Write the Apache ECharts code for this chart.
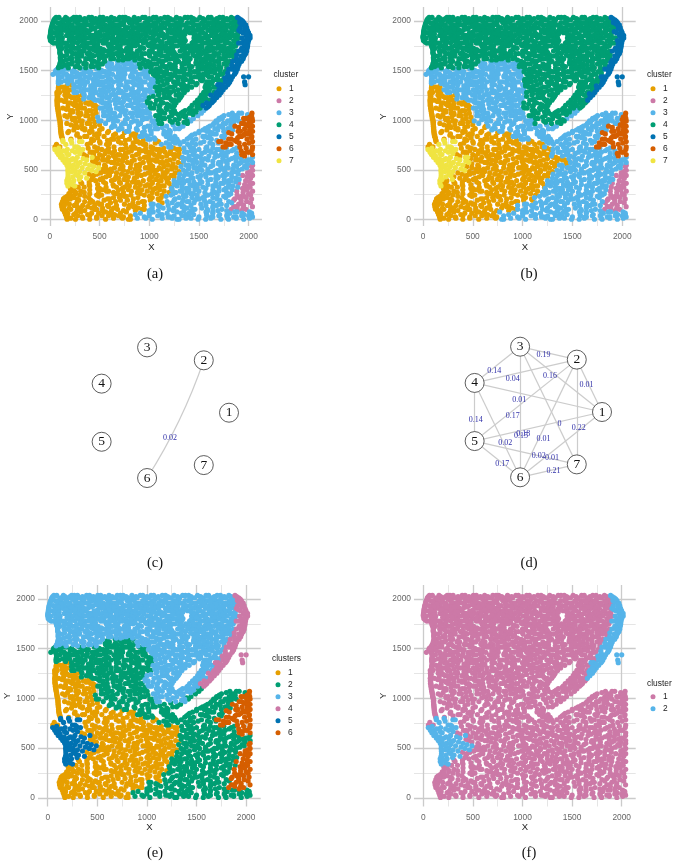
<!DOCTYPE html>
<html>
<head>
<meta charset="utf-8">
<style>html,body{margin:0;padding:0;background:#fff}#chart{width:678px;height:866px}</style>
<script src="https://cdn.jsdelivr.net/npm/echarts@6/dist/echarts.min.js"></script>
</head>
<body>
<div id="chart"></div>
<script>
// Spatial spots, one row per line: [y, x, x, x, ...]
const spotRows = [
[2036,62,91,158,241,268,300,392,421,505,534,618,701,733,760,849,933,958,1042,1069,1155,1187,1274,1360,1388,1421,1510,1596,1622,1708,1741,1826,1888],
[2012,41,130,163,207,296,325,412,480,552,585,659,687,774,812,901,988,1017,1101,1213,1241,1330,1452,1483,1560,1648,1679,1770,1796,1862,1925],
[1985,31,72,104,192,271,350,447,475,530,626,715,800,836,871,958,1051,1140,1171,1270,1298,1385,1417,1530,1592,1617,1700,1735,1829,1912,1952],
[1960,23,118,147,225,313,360,391,495,560,651,678,745,893,921,1000,1025,1118,1206,1235,1327,1349,1465,1500,1588,1668,1764,1792,1878,1971],
[1933,15,58,86,170,262,291,430,458,520,590,624,762,786,862,969,990,1082,1158,1281,1305,1400,1434,1550,1622,1645,1722,1825,1848,1915,1980],
[1906,10,121,152,198,336,367,404,541,574,640,702,731,825,920,945,1046,1079,1190,1243,1269,1361,1478,1503,1590,1700,1729,1775,1880,1902,1988],
[1882,6,44,88,215,244,311,380,468,499,611,659,688,780,853,885,1013,1037,1121,1220,1251,1332,1410,1439,1541,1637,1669,1760,1812,1942,1999],
[1855,3,70,168,192,281,406,431,515,548,633,742,770,839,921,971,1098,1126,1177,1295,1320,1471,1502,1574,1620,1713,1787,1838,1868,1973,2014],
[1829,0,32,125,229,258,345,377,452,600,627,709,815,848,900,1005,1031,1150,1205,1231,1350,1450,1531,1561,1656,1740,1810,1908,1935,2015],
[1803,5,92,119,208,301,329,489,516,568,661,690,791,880,908,968,1064,1100,1262,1291,1363,1475,1500,1604,1695,1721,1850,1881,1952,2000],
[1778,36,62,150,172,277,385,411,535,559,640,738,762,855,941,1020,1047,1176,1204,1310,1332,1430,1541,1569,1658,1772,1803,1900,1925,1994],
[1750,86,199,226,321,352,447,476,591,617,708,830,860,996,1022,1080,1143,1260,1285,1392,1498,1527,1621,1699,1730,1845,1871,1960,1990],
[1725,96,122,248,270,397,423,508,650,682,773,795,910,945,1113,1136,1205,1340,1366,1445,1475,1580,1647,1679,1796,1820,1930,1984],
[1698,101,165,190,312,338,461,487,562,585,725,752,879,1000,1028,1169,1195,1310,1420,1448,1553,1600,1742,1766,1876,1901,1981],
[1672,100,230,257,375,400,520,629,657,811,835,930,958,1060,1088,1226,1248,1390,1502,1530,1672,1700,1830,1853,1972],
[1647,106,148,294,320,441,541,568,690,714,845,871,1005,1125,1155,1280,1312,1460,1486,1605,1625,1780,1808,1925,1954],
[1620,105,197,221,360,385,495,612,641,768,792,902,1038,1064,1197,1225,1352,1412,1554,1580,1716,1745,1878,1945],
[1594,107,133,270,298,426,448,552,680,706,830,860,985,1112,1140,1265,1295,1395,1520,1548,1656,1688,1810,1840,1929],
[1568,100,185,212,340,366,505,528,622,750,778,900,932,1050,1078,1205,1328,1355,1472,1495,1610,1752,1780,1905],
[1541,90,118,255,281,412,438,582,605,705,840,866,965,1000,1150,1172,1262,1402,1430,1566,1590,1702,1845,1870,1894],
[1516,75,160,186,318,345,470,642,668,783,808,924,1070,1098,1230,1256,1360,1505,1532,1652,1676,1800,1826,1887],
[1490,56,104,226,250,384,410,538,561,726,752,860,990,1015,1127,1300,1327,1450,1474,1613,1635,1760,1874],
[1463,31,80,168,290,315,450,476,600,630,755,888,915,1042,1070,1190,1218,1388,1412,1540,1565,1710,1736,1858],
[1438,91,122,236,258,352,505,532,666,690,812,838,958,1098,1125,1280,1306,1455,1482,1600,1628,1790,1815,1838,1950,2000],
[1411,88,178,204,310,433,459,590,614,720,882,908,1022,1050,1174,1200,1340,1368,1516,1540,1670,1695,1745,1824],
[1386,85,112,275,300,378,520,548,640,770,797,935,958,1088,1245,1272,1410,1436,1580,1604,1742,1766,1810,1960],
[1359,89,216,240,350,483,510,692,718,850,874,1000,1030,1145,1320,1344,1470,1570,1600,1690,1718,1790,1965],
[1333,86,130,265,292,420,446,578,602,760,785,900,1062,1086,1210,1238,1378,1426,1562,1650,1674,1768],
[1307,85,186,212,360,386,505,640,768,820,945,968,1120,1148,1290,1384,1571,1600,1702,1744],
[1281,70,96,242,268,440,466,562,688,715,860,886,1015,1040,1188,1214,1353,1548,1650,1680,1724],
[1254,71,150,174,322,346,498,524,615,772,796,932,958,1092,1270,1296,1329,1526,1620,1705],
[1229,73,220,244,390,416,570,598,738,845,870,1000,1152,1178,1313,1511,1540,1647,1679],
[1202,70,112,285,310,455,480,646,672,805,900,925,1072,1225,1250,1294,1486,1602,1654],
[1176,71,180,206,360,386,528,556,705,728,860,985,1012,1140,1270,1460,1488,1576,1629],
[1150,72,248,272,432,456,600,780,804,930,952,1108,1202,1254,1431,1540,1604],
[1123,76,130,322,348,505,530,668,690,840,866,1020,1047,1170,1238,1411,1512,1574],
[1098,80,205,228,392,418,580,742,766,910,934,1096,1120,1253,1361,1441,1470,1549],
[1071,85,284,310,465,626,650,810,836,975,1002,1155,1264,1322,1405,1524,1836,1902,1930,2034],
[1046,89,150,360,384,540,564,702,880,904,1065,1088,1226,1338,1366,1489,1752,1850,1875,1992,2030],
[1019,93,226,250,434,612,636,780,950,976,1130,1154,1301,1444,1703,1735,1830,1950,1975,2036],
[993,100,300,325,490,515,680,850,874,1030,1052,1212,1380,1418,1672,1790,1815,1900,2040],
[968,102,170,375,400,560,735,760,912,1100,1125,1290,1384,1651,1745,1770,1930,1955,2005],
[941,104,245,268,450,630,654,800,985,1010,1175,1339,1611,1700,1725,1862,2005,2039],
[915,106,328,352,525,700,724,870,1060,1085,1260,1299,1562,1660,1790,1814,1960,2022],
[889,109,190,400,424,590,770,794,950,1018,1150,1212,1501,1578,1602,1750,1895,1919,2040],
[862,111,276,470,495,660,840,864,1019,1146,1209,1461,1650,1674,1830,1990,2014],
[837,116,350,372,545,730,905,930,979,1171,1258,1416,1540,1564,1730,1905,1928,2033],
[810,126,212,420,620,644,800,985,1010,1058,1203,1279,1381,1470,1625,1800,1825,1985],
[785,131,298,322,500,690,865,888,1094,1241,1294,1346,1550,1700,1724,1880,2040],
[758,66,160,376,570,590,760,940,965,1122,1203,1309,1386,1470,1640,1800,1824,1960],
[732,51,100,250,275,450,645,820,844,1018,1196,1220,1410,1580,1742,1766,1912,2040],
[706,50,175,330,522,710,734,900,1075,1100,1280,1305,1500,1680,1704,1850,2036],
[679,71,112,255,405,428,600,790,970,994,1160,1355,1378,1560,1625,1790,1985,2010],
[654,86,190,340,500,680,704,870,1050,1240,1264,1440,1722,1745,1930,2040],
[627,106,275,425,448,590,770,950,974,1130,1310,1334,1515,1660,1860,1884,2039],
[601,131,210,370,530,555,690,850,1030,1054,1210,1400,1424,1590,1800,1990,2014],
[575,151,305,460,620,644,780,940,1110,1134,1290,1480,1700,1724,1925,2040],
[548,171,235,400,550,720,870,894,1015,1190,1370,1394,1560,1640,1850,2040],
[523,181,325,490,650,810,960,984,1100,1270,1450,1474,1770,1794,1980],
[496,180,255,420,580,740,900,1050,1074,1180,1345,1530,1680,1704,1900,2040],
[470,182,350,510,670,830,990,1006,1140,1260,1430,1600,1620,1830,1990],
[444,183,280,440,600,760,920,1090,1220,1244,1350,1520,1740,1764,1940,2040],
[417,179,370,530,690,850,1010,1170,1194,1300,1440,1670,1690,1870,2020],
[392,170,240,460,620,780,940,1100,1120,1250,1380,1400,1590,1800,1824,1970],
[365,171,320,560,710,870,1030,1200,1320,1344,1510,1720,1744,1900,2040],
[339,181,250,400,640,800,960,1130,1150,1280,1440,1640,1660,1840,2000],
[313,206,480,500,730,890,1060,1225,1370,1394,1570,1770,1940,1964],
[286,211,310,570,590,820,980,1150,1310,1330,1500,1700,1880,2040],
[261,191,256,400,660,680,910,1080,1240,1420,1444,1630,1820,2000],
[234,171,350,490,750,770,1000,1170,1350,1370,1560,1750,1930,1954],
[208,136,205,275,580,600,840,1090,1260,1480,1504,1680,1860,2030],
[182,126,350,430,660,930,950,1180,1380,1400,1610,1800,1980],
[155,116,196,500,520,750,1020,1040,1290,1520,1700,1724,1900],
[130,119,275,380,590,840,860,1110,1330,1350,1640,1850,1874,2039],
[103,126,210,450,470,680,930,950,1200,1440,1460,1585,1730,1824,1974],
[77,146,310,540,560,770,1020,1040,1280,1430,1571,1640,1860,1884,2008],
[51,156,240,380,630,650,860,1110,1130,1370,1447,1578,1709,1786,1955,2030],
[26,166,325,470,720,740,950,1190,1210,1400,1500,1628,1640,1850,1874,2039],
[3,173,257,400,560,790,810,1030,1280,1300,1491,1568,1721,1798,1951]
];

// Second pass of spots, between the rows above
const fillRows = [
[2024,50,175,225,350,460,575,650,790,890,1000,1115,1210,1310,1445,1540,1680,1780,1850,1905],
[1998,38,135,250,365,440,510,600,745,860,985,1085,1190,1320,1435,1555,1660,1745,1870,1940],
[1972,27,95,180,285,420,525,610,715,820,965,1070,1175,1290,1440,1540,1640,1730,1840,1935],
[1946,20,135,215,345,415,490,595,700,830,925,1040,1125,1255,1370,1490,1575,1695,1790,1895,1960],
[1920,12,105,240,310,440,555,665,760,890,1000,1120,1210,1310,1440,1530,1660,1755,1850,1960],
[1894,8,75,180,275,385,505,615,745,820,975,1070,1190,1290,1390,1520,1625,1735,1835,1920,1990],
[1868,5,115,225,350,475,575,710,805,950,1065,1140,1260,1360,1450,1565,1665,1745,1890,1985],
[1842,0,100,200,315,430,490,585,690,800,880,1040,1165,1260,1480,1590,1695,1765,1870,1990],
[1816,15,80,195,290,420,545,660,750,860,950,1085,1200,1320,1500,1590,1680,1780,1880,1985],
[1790,20,105,245,350,445,535,625,725,835,940,1035,1130,1230,1355,1445,1530,1640,1760,1870,1975],
[1764,85,115,225,330,480,590,680,800,880,985,1115,1225,1345,1465,1600,1695,1825,1960],
[1737,90,165,290,375,470,600,695,790,915,1060,1170,1235,1330,1425,1530,1620,1755,1845,1985],
[1711,100,210,345,440,540,620,715,815,905,1030,1100,1235,1340,1410,1510,1630,1720,1825,1940],
[1685,100,220,290,395,530,615,690,790,880,1015,1120,1250,1360,1490,1575,1650,1790,1860,1950],
[1660,110,170,320,425,480,595,720,780,880,1000,1100,1190,1270,1345,1440,1570,1660,1750,1880,1960],
[1634,105,215,270,400,515,630,740,820,920,1060,1180,1250,1385,1510,1645,1700,1850,1945],
[1607,110,160,290,420,550,690,735,855,950,1095,1170,1280,1380,1475,1620,1700,1770,1900],
[1581,105,225,350,480,600,735,790,935,1010,1130,1270,1350,1470,1575,1700,1790,1885],
[1555,100,150,280,420,480,580,680,820,970,1020,1130,1240,1400,1530,1650,1700,1830,1890],
[1529,85,185,300,360,490,650,750,910,1020,1110,1215,1330,1490,1610,1720,1780,1880],
[1503,60,125,240,370,520,600,710,840,960,1060,1175,1270,1410,1570,1710,1860],
[1477,70,135,270,345,500,580,690,830,950,1090,1160,1260,1350,1495,1590,1660,1790,1865],
[1450,85,170,215,400,475,570,720,815,980,1060,1150,1240,1350,1510,1590,1690,1790],
[1425,90,190,300,390,450,590,745,880,990,1085,1220,1350,1420,1540,1680,1760],
[1398,85,150,220,340,480,570,680,840,900,1020,1130,1290,1410,1530,1640,1700,1800],
[1372,85,180,320,440,590,700,840,910,1050,1180,1290,1340,1480,1630,1720,1800],
[1346,90,170,300,410,540,620,770,920,1030,1110,1260,1390,1600,1740],
[1320,85,155,240,340,450,545,690,830,920,1010,1180,1330,1370,1610,1710],
[1294,90,145,310,420,520,590,720,890,980,1080,1250,1345,1600,1710],
[1268,75,180,340,410,520,640,740,820,950,1100,1150,1300,1590,1670],
[1241,80,200,280,430,570,660,840,900,1040,1200,1320,1560,1680],
[1215,75,160,340,440,525,690,780,960,1110,1215,1300,1570,1640],
[1189,75,145,255,420,510,600,740,860,980,1120,1240,1530,1640],
[1163,75,230,310,390,560,660,820,890,1060,1180,1250,1500,1605],
[1136,80,180,280,470,570,730,890,1010,1100,1220,1480,1590],
[1110,85,165,280,460,610,700,870,980,1180,1400,1490,1530],
[1084,85,230,370,540,720,880,950,1130,1220,1340,1470],
[1058,90,200,310,430,600,760,930,1110,1290,1440,1800,1990],
[1032,95,175,290,480,660,830,1010,1200,1360,1730,1890,2010],
[1006,100,230,400,590,760,930,1090,1260,1400,1700,1860,2000],
[980,105,260,450,640,820,1040,1230,1350,1680,1850,2020],
[954,105,210,320,500,720,890,1060,1240,1640,1820,1980],
[928,108,280,420,620,800,950,1130,1310,1590,1740,1900],
[902,110,240,350,500,690,880,1010,1200,1540,1690,1840,2010],
[876,112,180,400,580,750,930,1170,1500,1630,1800,1970],
[850,118,270,450,640,820,960,1200,1430,1610,1760,1950],
[824,125,300,480,690,860,1050,1230,1400,1590,1750,1890,2030],
[798,130,210,440,580,760,940,1070,1270,1440,1680,1860],
[772,220,410,505,600,715,838,905,1060,1170,1262,1430,1517,1610,1695,1770,1905,2005],
[719,90,290,385,480,590,770,860,965,1040,1145,1245,1350,1445,1570,1640,1775,1880,1975],
[693,135,225,285,470,565,650,820,935,1030,1120,1215,1420,1460,1600,1730,1830,1925],
[666,170,300,440,555,630,760,895,1005,1100,1205,1300,1450,1530,1665,1760,1880,1950],
[640,125,370,530,640,735,830,995,1090,1175,1290,1400,1480,1600,1690,1775,1960],
[614,165,230,335,480,660,740,905,990,1080,1250,1360,1465,1560,1740,1830,1925],
[588,185,260,430,585,730,825,995,1070,1175,1345,1440,1530,1640,1770,1875,1965],
[561,190,285,355,490,680,815,910,1005,1140,1240,1320,1440,1530,1695,1785,1905,1990],
[535,205,275,440,560,735,900,1035,1150,1230,1320,1400,1515,1620,1720,1880,1960,2030],
[509,230,380,535,610,705,860,1025,1120,1225,1395,1500,1590,1745,1840,1935],
[483,220,300,465,550,620,785,880,1015,1180,1300,1370,1480,1590,1660,1760,1860,2015],
[457,260,395,470,590,720,880,955,1060,1160,1305,1390,1565,1670,1785,1895,2000],
[430,230,310,430,565,665,790,875,1025,1130,1250,1420,1490,1570,1695,1830,1985],
[404,190,295,420,505,650,745,850,1000,1065,1180,1335,1510,1620,1755,1905],
[378,210,310,395,540,700,830,890,1030,1180,1290,1450,1530,1670,1760,1870,2010],
[352,225,395,480,635,780,910,985,1090,1250,1410,1475,1590,1670,1800,1960],
[326,285,345,565,670,750,860,1010,1095,1220,1330,1480,1540,1700,1795,1890,2015],
[300,240,400,530,690,790,925,1040,1105,1230,1400,1460,1640,1750,1835,1985],
[273,260,345,490,640,740,880,1030,1200,1265,1380,1560,1660,1780,1945],
[247,210,300,470,520,720,815,950,1130,1220,1345,1480,1590,1685,1800,1885,2020],
[221,150,240,390,640,700,885,1030,1120,1300,1430,1540,1640,1770,1905,1975],
[195,170,290,410,545,710,780,1010,1100,1250,1340,1460,1555,1710,1850,1925],
[169,160,270,400,480,610,835,890,1130,1230,1330,1450,1570,1640,1830,1925,2020],
[142,145,245,330,450,580,670,800,950,1090,1190,1275,1420,1570,1680,1780,1950],
[116,135,195,310,420,530,640,790,890,1030,1140,1250,1380,1530,1640,1885,1945],
[90,160,275,350,530,620,740,860,1000,1090,1240,1350,1420,1590,1690,1780,1930],
[64,180,260,420,490,600,710,910,1000,1180,1320,1400,1640,1810,1935,2030],
[38,175,280,400,525,590,690,810,1000,1085,1250,1330,1580,1700,1780,1930,2000],
[14,210,330,470,640,730,880,965,1130,1230,1370,1420,1620,1790,1875,2010]
];

// Cluster runs by height: [lower y, [cluster, x limit, cluster, x limit, ..., last cluster]]
const runsA = [
[1960,[4,1880,5]],[1880,[4,1900,5]],[1800,[4,1910,5]],[1720,[4,1900,5]],[1640,[4,1880,5]],
[1600,[4,1860,5]],[1520,[4,560,3,880,4,1830,5]],[1440,[3,1000,4,1790,5]],[1360,[3,1060,4,1750,5]],
[1280,[1,220,3,1050,4,1680,5]],[1200,[1,340,3,1000,4,1620,5]],[1120,[1,480,3,960,4,1540,5]],
[1040,[1,500,3,1010,4,1480,3,2000,6]],[960,[1,470,3,1090,4,1400,3,1920,6]],[880,[1,600,3,1850,6]],
[800,[1,880,3,1780,6]],[720,[1,130,7,370,1,1100,3,1700,6]],[640,[7,340,1,1310,3,1900,6]],
[560,[7,430,1,1330,3]],[480,[7,500,1,1320,3,1990,2]],[400,[7,380,1,1290,3,1930,2]],
[320,[7,260,1,1250,3,1900,2]],[240,[1,1210,3,1860,2]],[160,[1,1160,3,1840,2]],
[80,[1,1000,3,1810,2]],[-100,[1,830,3]]
];
const runsB = [
[1960,[4,1880,5]],[1880,[4,1920,5]],[1800,[4,1940,5]],[1720,[4,1930,5]],[1640,[4,1900,5]],
[1600,[4,1880,5]],[1520,[4,560,3,950,4,1850,5]],[1440,[3,1010,4,1820,5]],[1360,[3,1020,4,1790,5]],
[1280,[1,210,3,1020,4,1720,5]],[1200,[1,340,3,1010,4,1650,5]],[1120,[1,490,3,1000,4]],
[1040,[1,510,3,1040,4,1480,3,2000,6]],[960,[1,510,3,1110,4,1420,3,1990,6]],[880,[1,650,3,1860,6]],
[800,[1,900,3,1790,6]],[720,[1,150,7,370,1,1210,3,1740,6]],[640,[7,340,1,1290,3,1950,6]],
[560,[7,470,1,1450,3]],[480,[7,440,1,1330,3,1990,2]],[400,[7,310,1,1290,3,1920,2]],
[320,[7,210,1,1230,3,1880,2]],[240,[1,1190,3,1850,2]],[160,[1,1120,3,1830,2]],
[80,[1,950,3,1810,2]],[-100,[1,760,3]]
];
// Panels (e) and (f) group the clusters of (a) into fewer classes
const mergeE = {1:1,2:6,3:2,4:3,5:4,6:6,7:5};
const mergeF = {1:1,2:1,3:1,4:1,5:2,6:1,7:2};
const arcStartF = 1650;

const colorsSeven = {1:'#E69F00',2:'#CC79A7',3:'#56B4E9',4:'#009E73',5:'#0072B2',6:'#D55E00',7:'#F0E442'};
const colorsSix = {1:'#E69F00',2:'#009E73',3:'#56B4E9',4:'#CC79A7',5:'#0072B2',6:'#D55E00'};
const colorsTwo = {1:'#CC79A7',2:'#56B4E9'};

const majorTicks = [0,500,1000,1500,2000];
const minorTicks = [250,750,1250,1750];

// Weighted edges between the seven clusters: [from, to, weight, label shift x, label shift y]
const edgesC = [[2,6,0.02,-9,15]];
const edgesD = [
[2,3,0.19,-5,0],[3,4,0.14,-3,4],[2,4,0.04,-13,6],[1,3,0.16,-11,-5],[1,2,0.01,-3,-3],[1,4,0.01,-19,0],
[4,5,0.14,1,6],[2,5,0.17,-13,14],[3,7,0,11,16],[2,7,0.22,2,14],[1,5,0.18,-15,5],[3,6,0.15,1,22],
[2,6,0.01,-5,18],[5,6,0.17,5,3],[4,6,0.02,8,11],[5,7,0.02,13,1],[1,6,0.01,-9,11],[6,7,0.21,5,-2]
];
const nodeNames = ['1','2','3','4','5','6','7'];

function clusterOf(runs, x, y) {
  const seq = runs.find(r => y >= r[0])[1];
  for (let i = 0; i + 1 < seq.length; i += 2) if (x < seq[i + 1]) return seq[i];
  return seq[seq.length - 1];
}
const spotsOf = (runs, relabel) => {
  const out = [];
  spotRows.concat(fillRows).forEach(row => row.slice(1).forEach(x => out.push([x, row[0], relabel(clusterOf(runs, x, row[0]), x)])));
  return out;
};

const sans = '"Liberation Sans", Arial, sans-serif';
const serif = '"Liberation Serif", "Times New Roman", serif';
const tickColor = '#666666';
const panels = [
  {id:'a', spots:spotsOf(runsA, c=>c), colors:colorsSeven, title:'cluster', box:[41,7,221,219], range:[-90,2135,-65,2141],
   legend:[276.5,84.7], titleAt:[273.5,71], caption:[155,267]},
  {id:'b', spots:spotsOf(runsB, c=>c), colors:colorsSeven, title:'cluster', box:[414,7,221.7,219], range:[-90,2135,-65,2141],
   legend:[650.5,84.7], titleAt:[647,71], caption:[529,267]},
  {id:'e', spots:spotsOf(runsA, c=>mergeE[c]), colors:colorsSix, title:'clusters', box:[38,585,222.7,221.5], range:[-98,2147,-88,2141],
   legend:[275.5,668.7], titleAt:[272,655], caption:[155,846]},
  {id:'f', spots:spotsOf(runsA, (c,x)=>(c===5 && x<arcStartF) ? 1 : mergeF[c]), colors:colorsTwo, title:'cluster', box:[414,585,221.7,221.5], range:[-94,2141,-88,2141],
   legend:[650.5,692.7], titleAt:[647,680], caption:[529,846]}
];

const grids=[], xAxes=[], yAxes=[], series=[], legends=[], titles=[];
const axisPair = (i, kind, lo, hi) => {
  const base = {type:'value', gridIndex:i, min:lo, max:hi, axisLine:{show:false}, axisTick:{show:false},
    position: kind==='x' ? 'bottom' : 'left'};
  return [
    Object.assign({}, base, {
      name: kind==='x' ? 'X' : 'Y', nameLocation:'middle', nameGap: kind==='x' ? 15 : 23,
      nameTextStyle:{fontFamily:sans,fontSize:9.5,color:'#222'},
      axisTick:{show:false, customValues:majorTicks},
      axisLabel:{show:true, customValues:majorTicks, formatter:v=>String(v), fontFamily:sans, fontSize:8.4, color:tickColor, margin:kind==='x'?7:3},
      splitLine:{show:true, lineStyle:{color:'#cbcbcb', width:1.3}}
    }),
    Object.assign({}, base, {
      axisTick:{show:false, customValues:minorTicks},
      axisLabel:{show:false, customValues:minorTicks},
      splitLine:{show:true, lineStyle:{color:'#dedede', width:0.8}}
    })
  ];
};

panels.forEach((p, i) => {
  const [l,t,w,h] = p.box, [x0,x1,y0,y1] = p.range;
  grids.push({left:l, top:t, width:w, height:h});
  xAxes.push(...axisPair(i,'x',x0,x1));
  yAxes.push(...axisPair(i,'y',y0,y1));
  const names = [];
  Object.keys(p.colors).forEach(c => {
    const name = p.id + c;
    names.push(name);
    series.push({
      type:'scatter', name, xAxisIndex:2*i, yAxisIndex:2*i, silent:true, animation:false,
      symbolSize:5.2, itemStyle:{color:p.colors[c], opacity:1},
      data:p.spots.filter(s => String(s[2])===c).map(s => [s[0],s[1]])
    });
  });
  legends.push({
    data:names, orient:'vertical', left:p.legend[0], top:p.legend[1], padding:0, itemWidth:10, itemHeight:5, itemGap:4,
    icon:'circle', selectedMode:false, formatter:n => n.slice(1),
    textStyle:{fontFamily:sans, fontSize:8.4, color:'#222'}
  });
  titles.push({text:p.title, left:p.titleAt[0], top:p.titleAt[1], padding:0,
    textStyle:{fontFamily:sans, fontSize:8.4, fontWeight:'normal', color:'#222'}});
  titles.push({text:'('+p.id+')', left:p.caption[0], top:p.caption[1], textAlign:'center', padding:0,
    textStyle:{fontFamily:serif, fontSize:14.5, fontWeight:'normal', color:'#111'}});
});

// Edge labels sit above their line by default; this brings them down onto it
const labelDrop = 11;

// The two network panels place the clusters evenly around a circle, counter-clockwise from the right
[['c',155,edgesC,162,412.7,0.06],['d',529,edgesD,535,412,0]].forEach(([id,capX,edges,cx,cy,curve]) => {
  const r = 67;
  const nodes = nodeNames.map((n,k) => ({name:n,
    x:cx + r*Math.cos(k*2*Math.PI/nodeNames.length), y:cy - r*Math.sin(k*2*Math.PI/nodeNames.length)}));
  const xs = nodes.map(n=>n.x), ys = nodes.map(n=>n.y);
  const left = Math.min(...xs), top = Math.min(...ys);
  series.push({
    type:'graph', layout:'none', left, top, width:Math.max(...xs)-left, height:Math.max(...ys)-top, silent:true, animation:false,
    symbol:'circle', symbolSize:19,
    itemStyle:{color:'#fff', borderColor:'#333', borderWidth:0.8, opacity:1},
    label:{show:true, position:'inside', fontFamily:serif, fontSize:13.5, color:'#111'},
    lineStyle:{color:'#cccccc', width:1.2, opacity:1, curveness:curve},
    edgeLabel:{show:true, fontFamily:serif, fontSize:8, color:'#3030a8', position:'middle', rotate:0},
    data:nodes,
    links:edges.map(e => ({source:String(e[0]), target:String(e[1]), value:e[2],
      label:{show:true, formatter:String(e[2]), offset:[e[3],e[4]+labelDrop], rotate:0}}))
  });
  titles.push({text:'('+id+')', left:capX, top:556, textAlign:'center', padding:0,
    textStyle:{fontFamily:serif, fontSize:14.5, fontWeight:'normal', color:'#111'}});
});

const chart = echarts.init(document.getElementById('chart'), null, {renderer:'canvas'});
chart.setOption({animation:false, backgroundColor:'#fff', grid:grids, xAxis:xAxes, yAxis:yAxes, series, legend:legends, title:titles});
</script>
</body>
</html>
